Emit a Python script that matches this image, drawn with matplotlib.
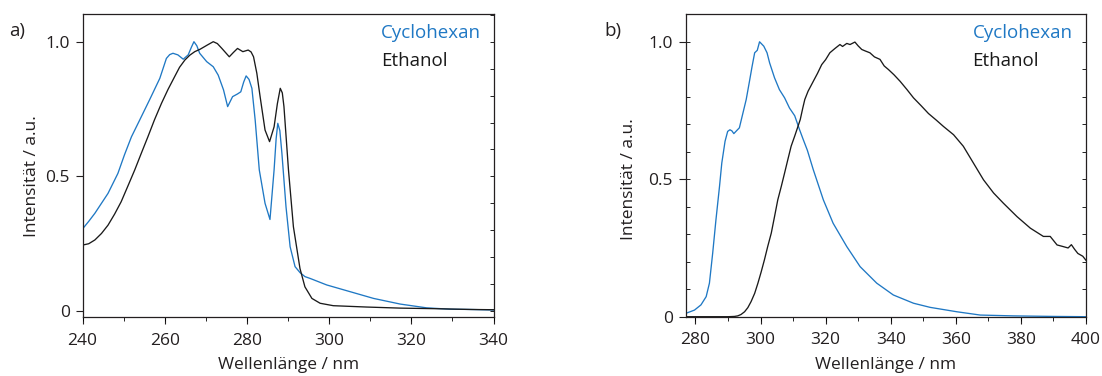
import matplotlib
matplotlib.use('Agg')
import matplotlib.pyplot as plt
from matplotlib.ticker import MultipleLocator, FixedLocator, FixedFormatter

plt.rcParams['font.family'] = ['Open Sans', 'DejaVu Sans']

BLUE = '#1f78c4'
DARK = '#1a1a1a'

# a) absorption
abs_cyclo_x = [240.0, 241.5, 243.0, 244.6, 246.2, 248.6, 250.2, 251.9, 253.9, 256.3,
               258.8, 260.4, 261.2, 262.0, 263.2, 264.5, 265.7, 266.5, 267.1, 267.8,
               268.5, 270.2, 271.8, 273.0, 274.3, 275.3, 276.5, 277.7, 278.5, 279.2,
               279.8, 280.5, 281.2, 282.0, 283.0, 284.4, 285.6, 286.6, 287.1, 287.5,
               288.0, 288.5, 289.5, 290.5, 291.7, 292.9, 294.1, 295.4, 299.4, 305.1,
               310.8, 317.3, 323.7, 329.4, 334.3, 340.0]
abs_cyclo_y = [0.305, 0.333, 0.363, 0.400, 0.437, 0.511, 0.580, 0.647, 0.709, 0.784,
               0.864, 0.938, 0.952, 0.957, 0.951, 0.935, 0.951, 0.980, 1.000, 0.985,
               0.957, 0.926, 0.907, 0.876, 0.821, 0.759, 0.796, 0.806, 0.814, 0.850,
               0.873, 0.860, 0.827, 0.709, 0.524, 0.400, 0.340, 0.524, 0.640, 0.697,
               0.670, 0.586, 0.387, 0.239, 0.165, 0.143, 0.128, 0.121, 0.097, 0.072,
               0.047, 0.026, 0.012, 0.007, 0.006, 0.004]

abs_eth_x = [240.0, 241.5, 243.0, 244.6, 246.2, 247.8, 249.4, 251.0, 252.7, 254.3,
             255.9, 257.5, 259.2, 260.8, 262.4, 263.6, 264.9, 266.1, 267.3, 268.6,
             270.4, 271.8, 272.8, 273.9, 275.7, 276.7, 277.7, 279.0, 280.3, 281.0,
             281.6, 282.4, 283.2, 284.4, 285.5, 286.6, 287.4, 288.1, 288.6, 289.0,
             290.1, 291.3, 292.9, 294.1, 295.8, 297.8, 301.0, 309.1, 317.3, 325.4,
             334.3, 340.0]
abs_eth_y = [0.245, 0.250, 0.264, 0.288, 0.319, 0.360, 0.406, 0.463, 0.524, 0.586,
             0.647, 0.710, 0.771, 0.823, 0.870, 0.905, 0.932, 0.950, 0.963, 0.972,
             0.988, 1.000, 0.993, 0.975, 0.944, 0.960, 0.975, 0.963, 0.969, 0.962,
             0.944, 0.883, 0.796, 0.672, 0.629, 0.684, 0.770, 0.827, 0.810, 0.759,
             0.524, 0.313, 0.158, 0.090, 0.047, 0.029, 0.020, 0.015, 0.011, 0.009,
             0.006, 0.005]

# b) emission
em_cyclo_x = [277.0, 279.7, 281.7, 283.3, 284.3, 285.3, 286.3, 287.4, 288.1, 289.1,
              289.9, 290.6, 291.2, 291.8, 292.6, 293.5, 294.6, 295.6, 296.6, 297.4,
              298.2, 299.0, 299.7, 301.0, 302.0, 302.8, 304.3, 305.8, 307.4, 308.9,
              310.5, 312.0, 313.1, 314.4, 316.2, 319.3, 322.3, 326.5, 330.6, 335.7,
              340.8, 347.0, 352.1, 360.3, 367.5, 377.6, 390.0, 400.0]
em_cyclo_y = [0.012, 0.024, 0.043, 0.073, 0.122, 0.231, 0.352, 0.474, 0.559, 0.638,
              0.674, 0.680, 0.676, 0.666, 0.676, 0.687, 0.741, 0.790, 0.856, 0.910,
              0.960, 0.969, 1.000, 0.984, 0.960, 0.923, 0.869, 0.826, 0.796, 0.759,
              0.731, 0.680, 0.645, 0.605, 0.535, 0.425, 0.340, 0.255, 0.182, 0.122,
              0.079, 0.049, 0.034, 0.018, 0.006, 0.003, 0.001, 0.000]

em_eth_x = [277.0, 290.0, 292.0, 293.0, 294.0, 295.1, 296.1, 297.1, 298.2, 299.2,
            300.2, 301.2, 302.2, 303.3, 304.3, 305.3, 306.4, 307.4, 308.4, 309.4,
            310.5, 311.5, 312.2, 313.0, 313.6, 314.6, 316.2, 317.5, 318.8, 320.0,
            321.3, 322.8, 324.4, 325.2, 326.5, 327.5, 329.0, 330.0, 331.1, 332.3,
            333.6, 335.0, 336.7, 338.0, 339.3, 341.0, 342.9, 345.0, 347.0, 349.3,
            351.6, 354.0, 356.2, 359.3, 362.3, 365.4, 368.5, 371.6, 374.6, 378.8,
            382.9, 386.9, 389.0, 391.1, 393.0, 394.5, 395.5, 396.5, 397.5, 399.0,
            400.0]
em_eth_y = [0.000, 0.000, 0.001, 0.003, 0.008, 0.018, 0.033, 0.055, 0.085, 0.122,
            0.163, 0.207, 0.255, 0.304, 0.364, 0.425, 0.475, 0.523, 0.572, 0.620,
            0.657, 0.692, 0.717, 0.760, 0.790, 0.820, 0.856, 0.885, 0.917, 0.935,
            0.960, 0.975, 0.990, 0.983, 0.994, 0.990, 0.999, 0.985, 0.972, 0.966,
            0.960, 0.945, 0.936, 0.912, 0.899, 0.880, 0.856, 0.826, 0.796, 0.768,
            0.739, 0.715, 0.692, 0.662, 0.620, 0.559, 0.498, 0.450, 0.413, 0.364,
            0.322, 0.292, 0.292, 0.261, 0.255, 0.250, 0.262, 0.245, 0.230, 0.220,
            0.205]

y_ticks = [0, 0.5, 1.0]
y_ticklabels = ['0', '0.5', '1.0']
series_names = ['Cyclohexan', 'Ethanol']
panel_labels = ['a)', 'b)']

FS = 12.5
TXT = '#231f20'


def style_axes(ax, xlim, ylim, xticks, left_minor, ylabel_x):
    ax.set_xlim(*xlim)
    ax.set_ylim(*ylim)
    ax.xaxis.set_major_locator(FixedLocator(xticks))
    ax.xaxis.set_minor_locator(MultipleLocator(10))
    ax.yaxis.set_major_locator(FixedLocator(y_ticks))
    ax.yaxis.set_major_formatter(FixedFormatter(y_ticklabels))
    ax.yaxis.set_minor_locator(MultipleLocator(0.1))
    ax.yaxis.remove_overlapping_locs = False
    ax.xaxis.remove_overlapping_locs = False
    ax.tick_params(axis='x', which='major', direction='out', length=4.7, width=0.8,
                   labelsize=FS, pad=6.5, colors=TXT)
    ax.tick_params(axis='x', which='minor', direction='out', length=3, width=0.6)
    ax.tick_params(axis='y', which='major', direction='out', length=4.7, width=0.8,
                   labelsize=FS, pad=4.5, colors=TXT)
    ax.tick_params(axis='y', which='minor', direction='in', length=3, width=0.6,
                   left=left_minor, right=True)
    for s in ax.spines.values():
        s.set_linewidth(0.9)
        s.set_color(TXT)
    ax.set_xlabel('Wellenlänge / nm', fontsize=FS, labelpad=6, color=TXT)
    ax.set_ylabel('Intensität / a.u.', fontsize=FS, color=TXT)
    # centre the y label on the 0..1 range, as in the source figure
    ax.yaxis.set_label_coords(ylabel_x, (0.5 - ylim[0]) / (ylim[1] - ylim[0]))


fig = plt.figure(figsize=(11.02, 3.76), dpi=100)

ax1 = fig.add_axes([0.0749, 0.1569, 0.373, 0.806])
ax1.plot(abs_cyclo_x, abs_cyclo_y, color=BLUE, lw=0.95)
ax1.plot(abs_eth_x, abs_eth_y, color=DARK, lw=0.95)
style_axes(ax1, (240, 340), (-0.022, 1.103), [240, 260, 280, 300, 320, 340], False, -0.103)

ax2 = fig.add_axes([0.6222, 0.1577, 0.3633, 0.8043])
ax2.plot(em_cyclo_x, em_cyclo_y, color=BLUE, lw=0.95)
ax2.plot(em_eth_x, em_eth_y, color=DARK, lw=0.95)
style_axes(ax2, (277, 400), (0, 1.1), [280, 300, 320, 340, 360, 380, 400], True, -0.122)

for tx, lab, lx in [(381, panel_labels[0], 9), (972.5, panel_labels[1], 604)]:
    fig.text(tx / 1102, 1 - 38 / 376, series_names[0], color=BLUE, fontsize=13.5,
             ha='left', va='baseline')
    fig.text(tx / 1102, 1 - 66.5 / 376, series_names[1], color=DARK, fontsize=13.5,
             ha='left', va='baseline')
    fig.text(lx / 1102, 1 - 36 / 376, lab, color=TXT, fontsize=13.5,
             ha='left', va='baseline')

fig.savefig('out.png', dpi=100)
